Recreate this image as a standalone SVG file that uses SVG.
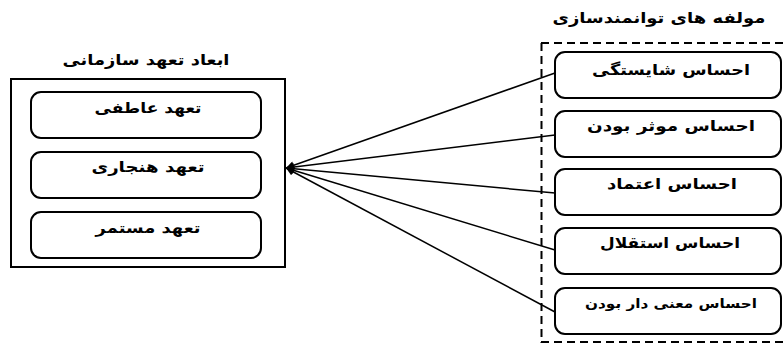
<svg xmlns="http://www.w3.org/2000/svg" width="783" height="343" viewBox="0 0 783 343">
<style>
.t{font-family:"DejaVu Sans","Noto Sans",sans-serif;font-weight:bold;font-size:15px;fill:#000;text-anchor:middle;direction:rtl}
.box{fill:#fff;stroke:#000;stroke-width:2}
.rbox{fill:#fff;stroke:#000;stroke-width:2}
.con{stroke:#000;stroke-width:1.5;fill:none;marker-end:url(#ah)}
.dash{stroke:#000;stroke-width:2;stroke-dasharray:8 5;fill:none}
</style>
<defs>
<marker id="ah" viewBox="0 0 10 10" refX="10" refY="5" markerWidth="9" markerHeight="8" markerUnits="userSpaceOnUse" orient="auto">
<path d="M0,0 L10,5 L0,10 Z" fill="#000"/>
</marker>
</defs>
<rect width="783" height="343" fill="#fff"/>
<g id="left-group">
<text class="t" x="146" y="65" textLength="167" lengthAdjust="spacingAndGlyphs">ابعاد تعهد سازمانی</text>
<rect x="11" y="79" width="274" height="188" fill="none" stroke="#000" stroke-width="2"/>
</g>
<g id="n-atefi"><rect class="box" x="31" y="92" width="230" height="46" rx="10"/><text class="t" x="148" y="113" textLength="107" lengthAdjust="spacingAndGlyphs">تعهد عاطفی</text></g>
<g id="n-hanjari"><rect class="box" x="31" y="152" width="230" height="46" rx="10"/><text class="t" x="148" y="172" textLength="113" lengthAdjust="spacingAndGlyphs">تعهد هنجاری</text></g>
<g id="n-mostamar"><rect class="box" x="31" y="212" width="230" height="46" rx="10"/><text class="t" x="148" y="233" textLength="105" lengthAdjust="spacingAndGlyphs">تعهد مستمر</text></g>
<g id="right-group">
<text class="t" x="659" y="23" textLength="213" lengthAdjust="spacingAndGlyphs">مولفه های توانمندسازی</text>
<path class="dash" d="M541,43 H783 M541.5,43 V343 M541,342 H783" />
</g>
<g id="n-shayestegi"><rect class="rbox" x="555" y="52" width="226" height="46" rx="10"/><text class="t" x="671" y="75" textLength="158" lengthAdjust="spacingAndGlyphs">احساس شایستگی</text></g>
<g id="n-moaser"><rect class="rbox" x="555" y="111" width="226" height="46" rx="10"/><text class="t" x="671" y="131" textLength="168" lengthAdjust="spacingAndGlyphs">احساس موثر بودن</text></g>
<g id="n-etemad"><rect class="rbox" x="555" y="169" width="226" height="46" rx="10"/><text class="t" x="672" y="189" textLength="130" lengthAdjust="spacingAndGlyphs">احساس اعتماد</text></g>
<g id="n-esteghlal"><rect class="rbox" x="555" y="228" width="226" height="46" rx="10"/><text class="t" x="670" y="248" textLength="140" lengthAdjust="spacingAndGlyphs">احساس استقلال</text></g>
<g id="n-maani"><rect class="rbox" x="555" y="288" width="226" height="46" rx="10"/><text class="t" x="671" y="308" textLength="172" lengthAdjust="spacingAndGlyphs" style="font-size:13px">احساس معنی دار بودن</text></g>
<g id="connectors">
<line class="con" x1="555" y1="73" x2="286" y2="168"/>
<line class="con" x1="555" y1="135" x2="286" y2="168"/>
<line class="con" x1="555" y1="193" x2="286" y2="168"/>
<line class="con" x1="555" y1="250" x2="286" y2="168"/>
<line class="con" x1="555" y1="312" x2="286" y2="168"/>
</g>
</svg>
